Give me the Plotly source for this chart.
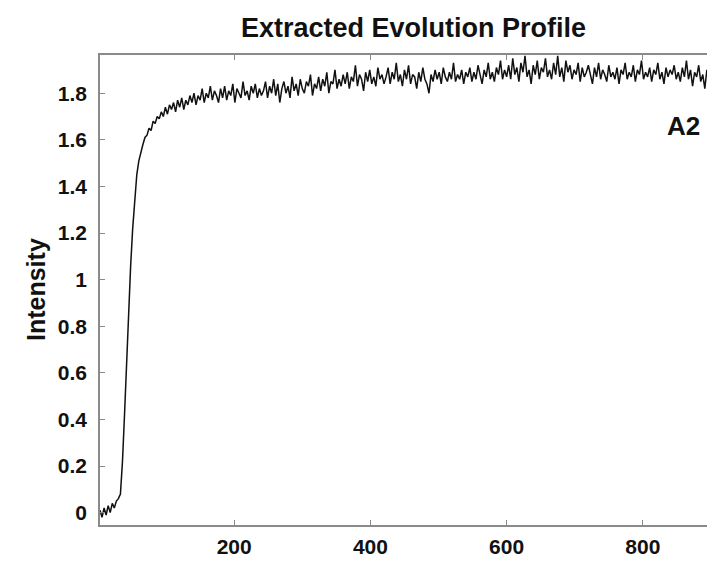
import plotly.graph_objects as go

# sample index (frame number) and extracted intensity
x_start = 3
x_step = 3
intensity = [
    0.01, -0.02, 0.02, -0.01, 0.03, 0.00, 0.04, 0.02, 0.05, 0.06,
    0.08, 0.22, 0.42, 0.64, 0.85, 1.06, 1.22, 1.36, 1.45, 1.51,
    1.55, 1.58, 1.61, 1.62, 1.65, 1.64, 1.68, 1.67, 1.70, 1.69,
    1.72, 1.70, 1.74, 1.71, 1.75, 1.73, 1.76, 1.72, 1.77, 1.74,
    1.78, 1.73, 1.77, 1.75, 1.79, 1.76, 1.80, 1.75, 1.79, 1.77,
    1.82, 1.76, 1.80, 1.78, 1.83, 1.77, 1.81, 1.79, 1.76, 1.82,
    1.78, 1.83, 1.77, 1.81, 1.79, 1.84, 1.76, 1.82, 1.80, 1.78,
    1.85, 1.79, 1.81, 1.77, 1.83, 1.80, 1.84, 1.78, 1.82, 1.79,
    1.81, 1.85, 1.78, 1.83, 1.80, 1.86, 1.79, 1.84, 1.76, 1.82,
    1.85, 1.80, 1.83, 1.78, 1.87, 1.81, 1.84, 1.79, 1.86, 1.82,
    1.80, 1.85, 1.83, 1.88, 1.79, 1.84, 1.82, 1.87, 1.81, 1.86,
    1.83, 1.89, 1.80, 1.85, 1.84, 1.90, 1.82, 1.86, 1.83, 1.88,
    1.84, 1.89, 1.82, 1.87, 1.85, 1.92, 1.83, 1.88, 1.86, 1.81,
    1.89, 1.85, 1.90, 1.84, 1.87, 1.83, 1.91, 1.86, 1.88, 1.84,
    1.87, 1.91, 1.84, 1.89, 1.86, 1.93, 1.85, 1.88, 1.83, 1.90,
    1.86, 1.92, 1.84, 1.88, 1.87, 1.82, 1.89, 1.85, 1.91, 1.86,
    1.84, 1.80, 1.88, 1.85, 1.90, 1.86, 1.89, 1.84, 1.91, 1.87,
    1.85, 1.89, 1.86, 1.93, 1.85, 1.88, 1.86, 1.90, 1.84, 1.89,
    1.87, 1.91, 1.85, 1.89, 1.86, 1.92, 1.88, 1.84, 1.90, 1.87,
    1.93, 1.86, 1.89, 1.85, 1.91, 1.88, 1.94, 1.86, 1.90, 1.87,
    1.92, 1.86, 1.95, 1.88, 1.91, 1.85, 1.93, 1.89, 1.96, 1.87,
    1.90, 1.84, 1.92, 1.88, 1.94, 1.86, 1.91, 1.89, 1.95, 1.87,
    1.90, 1.86, 1.93, 1.88, 1.96, 1.87, 1.91, 1.85, 1.94, 1.89,
    1.92, 1.86, 1.90, 1.88, 1.93, 1.85, 1.91, 1.87, 1.89, 1.92,
    1.88, 1.84, 1.91, 1.87, 1.93, 1.86, 1.90, 1.88, 1.85, 1.92,
    1.87, 1.89, 1.86, 1.91, 1.84, 1.90, 1.88, 1.93, 1.86, 1.89,
    1.87, 1.92, 1.85, 1.90, 1.88, 1.94, 1.86, 1.89, 1.87, 1.91,
    1.85, 1.90, 1.88, 1.93, 1.86, 1.89, 1.84, 1.91, 1.87, 1.90,
    1.88, 1.92, 1.86, 1.89, 1.85, 1.91, 1.87, 1.94, 1.86, 1.90,
    1.83, 1.89, 1.87, 1.92, 1.85, 1.88, 1.82, 1.90, 1.86, 1.84,
    1.87,
]
frames = [x_start + x_step * i for i in range(len(intensity))]

x_ticks = [200, 400, 600, 800]
y_ticks = [0, 0.2, 0.4, 0.6, 0.8, 1, 1.2, 1.4, 1.6, 1.8]
y_tick_labels = ["0", "0.2", "0.4", "0.6", "0.8", "1", "1.2", "1.4", "1.6", "1.8"]

title_text = "Extracted Evolution Profile"
y_title = "Intensity"
panel_label = "A2"

FONT = "Liberation Sans, Arial, sans-serif"
AXC = "#8a8a8a"

fig = go.Figure()
fig.add_trace(go.Scatter(
    x=frames, y=intensity, mode="lines",
    line=dict(color="#111111", width=1.5),
    showlegend=False, hoverinfo="skip",
))

# the page body adds an 8 px offset, so margins are shifted to compensate
fig.update_layout(
    width=715, height=563,
    margin=dict(l=92, r=10, t=47, b=46, autoexpand=False),
    paper_bgcolor="white", plot_bgcolor="white",
    title=dict(text="<b>" + title_text + "</b>", x=405.5 / 715, xanchor="center",
               y=1 - 20 / 563, yanchor="middle", yref="container", automargin=False,
               font=dict(family=FONT, size=27, color="#111111")),
    font=dict(family=FONT, color="#111111"),
)

fig.update_xaxes(
    range=[3, 903], tickvals=x_ticks, ticktext=["<b>%d</b>" % v for v in x_ticks],
    ticks="inside", ticklen=5, tickcolor=AXC, tickwidth=1,
    showline=True, linecolor=AXC, linewidth=1.5, mirror="ticks",
    showgrid=False, zeroline=False, automargin=False,
    tickfont=dict(family=FONT, size=21, color="#111111"),
    ticklabelstandoff=2,
)
fig.update_yaxes(
    range=[-0.053, 1.964], tickvals=y_ticks, ticktext=["<b>%s</b>" % t for t in y_tick_labels],
    ticks="inside", ticklen=5, tickcolor=AXC, tickwidth=1,
    showline=True, linecolor=AXC, linewidth=1.5, mirror="ticks",
    showgrid=False, zeroline=False, automargin=False,
    tickfont=dict(family=FONT, size=21, color="#111111"),
    ticklabelstandoff=7,
)

fig.add_annotation(
    text="<b>" + y_title + "</b>", xref="paper", yref="paper",
    x=(36 - 100) / 613, y=0.5, xanchor="center", yanchor="middle",
    textangle=-90, showarrow=False,
    font=dict(family=FONT, size=25, color="#111111"),
)
fig.add_annotation(
    text="<b>" + panel_label + "</b>", xref="x", yref="y",
    x=860, y=1.66, xanchor="center", yanchor="middle", showarrow=False,
    font=dict(family=FONT, size=26, color="#111111"),
)

fig.write_html("out.html")
